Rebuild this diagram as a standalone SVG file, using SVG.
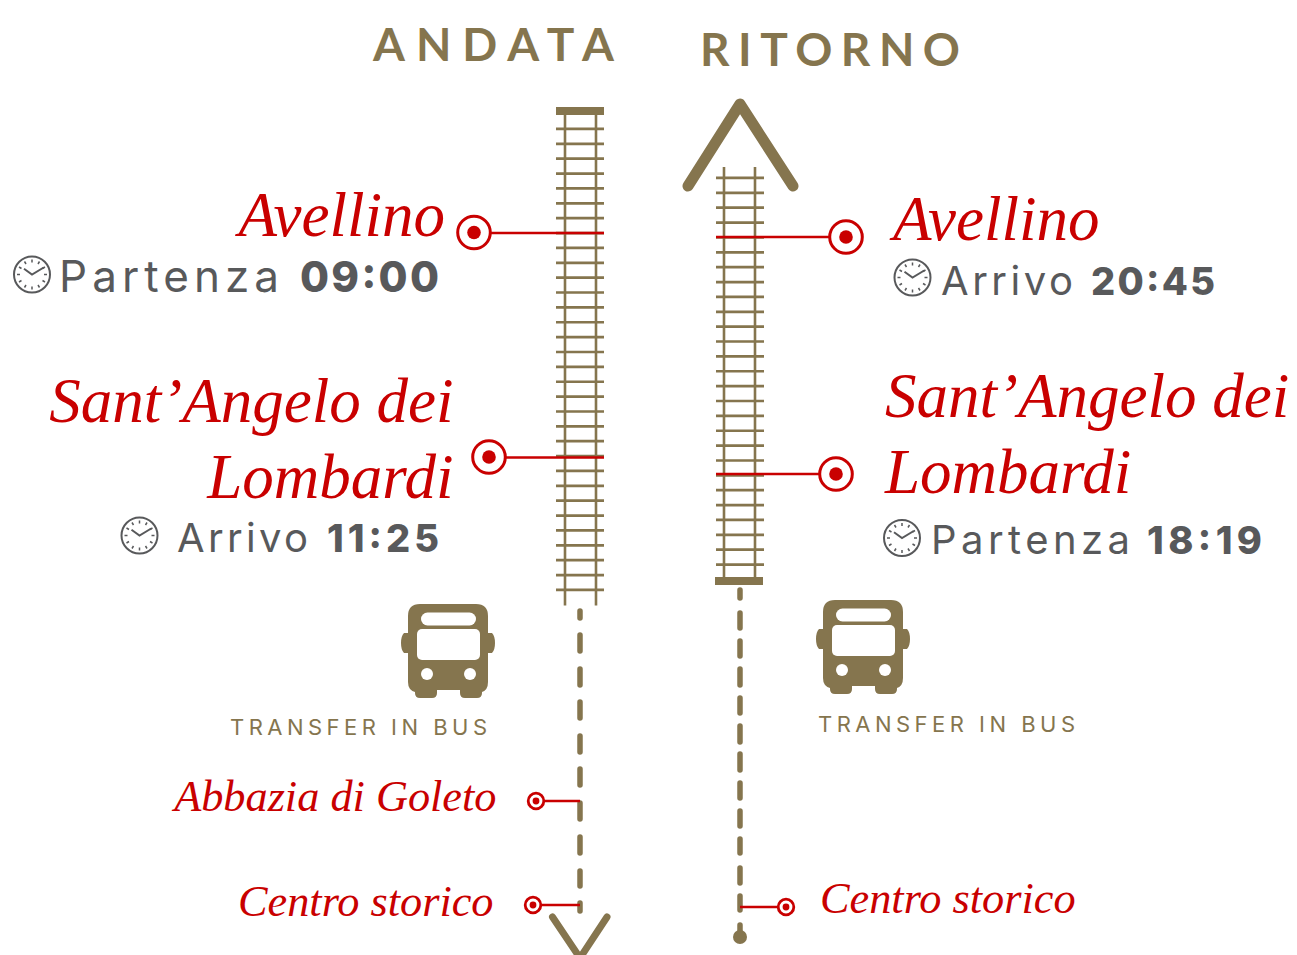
<svg xmlns="http://www.w3.org/2000/svg" width="1297" height="955" viewBox="0 0 1297 955">
<style>
.city{font-family:"Liberation Serif","Times New Roman",serif;font-style:italic;fill:#c90000}
.big{font-size:63px}.small{font-size:44.3px}
.info{font-family:Inter,"Open Sans",sans-serif;fill:#58595b}
.t{font-weight:800}
.title{font-family:Lato,"Noto Sans",sans-serif;font-size:46px;fill:#85754e;font-weight:700}
.tr{font-family:Inter,Lato,sans-serif;font-size:22px;fill:#85754e}
.gold{stroke:#85754e;fill:none}
.red{stroke:#c90000;fill:none}
.rail{stroke:#85754e;stroke-width:2.6;fill:none}
.tie{stroke:#85754e;stroke-width:48;fill:none;stroke-dasharray:2.7 12.17}
.dash{stroke:#85754e;stroke-width:5.5;stroke-linecap:round;fill:none}
.line{stroke:#c90000;stroke-width:2.4;fill:none}
</style>
<defs>
<g id="clock">
<circle r="18" fill="#fff" stroke="#58595b" stroke-width="2"/>
<path d="M-8-5.7L0 0 11.7-7" fill="none" stroke="#58595b" stroke-width="2"/>
<path d="M0-15V-12M0 15V12M-15 0H-12M15 0H12M-13-7.5L-10.5-6M13-7.5L10.5-6M-13 7.5L-10.500 6M13 7.5L10.500 6M-7.500-13L-6-10.500M7.500-13L6-10.500M-7.500 13L-6 10.500M7.500 13L6 10.500" fill="none" stroke="#58595b" stroke-width="1.5"/>
</g>
<g id="bus">
<path d="M408 633H404Q401 636 401 643Q401 650 404 653H408ZM488 633H492Q495 636 495 643Q495 650 492 653H488Z" fill="#85754e"/>
<path d="M420 604H476Q488 604 488 616V682Q488 690 482 692V693Q482 698 477 698H465Q460 698 460 693V690H437V693Q437 698 432 698H420Q415 698 415 693V692Q408 690 408 682V616Q408 604 420 604Z" fill="#85754e"/>
<rect x="421" y="612.500" width="55" height="13" rx="6.500" fill="#fff"/>
<rect x="417" y="629" width="63" height="31" rx="5" fill="#fff"/>
<circle cx="427" cy="674" r="6" fill="#fff"/>
<circle cx="470" cy="674" r="6" fill="#fff"/>
</g>
<g id="target"><circle r="16.300" fill="#fff" class="red" stroke-width="3"/><circle r="6.800" fill="#c90000"/></g>
<g id="target-s"><circle r="7.800" fill="#fff" class="red" stroke-width="2.800"/><circle r="3.400" fill="#c90000"/></g>
</defs>

<g id="titles">
<text class="title" x="373" y="60.500" textLength="241">ANDATA</text>
<text class="title" x="700" y="65.500" textLength="260">RITORNO</text>
</g>

<g id="connectors">
<path class="rail" d="M565 110V605.5M596 110V605.5"/>
<line class="tie" x1="580" y1="127.600" x2="580" y2="591.500"/>
<rect x="556" y="107" width="48" height="8" fill="#85754e"/>
<path class="rail" d="M724 167V580M755 167V580"/>
<line class="tie" x1="740" y1="176.600" x2="740" y2="566"/>
<rect x="715" y="577" width="48" height="8" fill="#85754e"/>
<path class="gold" stroke-width="11" stroke-linecap="round" stroke-linejoin="round" d="M688 186L740 104 793 186"/>
<path class="gold" stroke-width="7" stroke-linecap="round" d="M552.500 917L580 958 607 917"/>
<path class="dash" d="M580 611V618M580 635V651M580 669V685M580 702V718M580 736V752M580 769V785M580 803V819M580 837V853M580 871V886M580 903V911"/>
<path class="dash" d="M740 590V598M740 613V628M740 641V656M740 669V685M740 698V713M740 726V742M740 754V770M740 783V798M740 811V826M740 839V853M740 868V883M740 896V910M740 925V934"/>
<circle cx="740" cy="937" r="7" fill="#85754e"/>
<path class="line" d="M491 233H604M505 457.500H604M716 237H830M716 474H820M544 801H580M541 905H580M740 907H778"/>
</g>

<g id="node-avellino-a">
<use href="#target" x="474" y="232.500"/>
<text class="city big" x="445" y="236" text-anchor="end">Avellino</text>
<use href="#clock" x="32" y="274.500"/>
<text class="info" font-size="44" x="59" y="292" textLength="220">Partenza</text>
<text class="info t" font-size="42" x="300" y="292" textLength="139">09:00</text>
</g>
<g id="node-santangelo-a">
<use href="#target" x="489" y="457"/>
<text class="city big" x="453.500" y="421.500" text-anchor="end">Sant’Angelo dei</text>
<text class="city big" x="453.500" y="497.500" text-anchor="end">Lombardi</text>
<use href="#clock" x="139.500" y="535.500"/>
<text class="info" font-size="40" x="177" y="552" textLength="131">Arrivo</text>
<text class="info t" font-size="38" x="327" y="552" textLength="112">11:25</text>
</g>
<g id="node-bus-a">
<use href="#bus"/>
<text class="tr" x="230" y="735" textLength="257">TRANSFER IN BUS</text>
</g>
<g id="node-goleto">
<use href="#target-s" x="536" y="801"/>
<text class="city small" x="496.500" y="811" text-anchor="end">Abbazia di Goleto</text>
</g>
<g id="node-centro-a">
<use href="#target-s" x="533" y="905"/>
<text class="city small" x="493.500" y="916" text-anchor="end">Centro storico</text>
</g>

<g id="node-avellino-r">
<use href="#target" x="846" y="237"/>
<text class="city big" x="893" y="240">Avellino</text>
<use href="#clock" x="912.500" y="277.500"/>
<text class="info" font-size="40" x="941" y="295" textLength="132">Arrivo</text>
<text class="info t" font-size="38" x="1091" y="295" textLength="124">20:45</text>
</g>
<g id="node-santangelo-r">
<use href="#target" x="836" y="474"/>
<text class="city big" x="885" y="417">Sant’Angelo dei</text>
<text class="city big" x="885" y="493">Lombardi</text>
<use href="#clock" x="902" y="538"/>
<text class="info" font-size="40" x="931" y="553.500" textLength="199">Partenza</text>
<text class="info t" font-size="38" x="1147" y="553.500" textLength="115">18:19</text>
</g>
<g id="node-bus-r">
<use href="#bus" x="415" y="-4"/>
<text class="tr" x="818" y="732" textLength="257">TRANSFER IN BUS</text>
</g>
<g id="node-centro-r">
<use href="#target-s" x="786" y="907"/>
<text class="city small" x="820" y="913">Centro storico</text>
</g>
</svg>
